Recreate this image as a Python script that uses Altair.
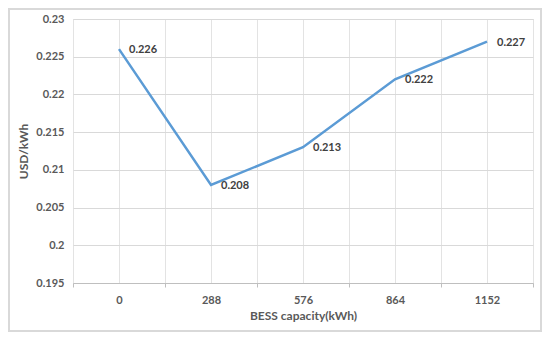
import altair as alt
import pandas as pd

capacity = [0, 288, 576, 864, 1152]
cost = [0.226, 0.208, 0.213, 0.222, 0.227]
cost_labels = ["0.226", "0.208", "0.213", "0.222", "0.227"]
y_ticks = [0.195, 0.2, 0.205, 0.21, 0.215, 0.22, 0.225, 0.23]
x_grid = [-144, 0, 144, 288, 432, 576, 720, 864, 1008, 1152, 1296]

df = pd.DataFrame({"cap": capacity, "cost": cost, "lab": cost_labels})

FONT = "Lato"
W, H = 460, 264

x_enc = alt.X(
    "cap:Q",
    scale=alt.Scale(domain=[-144, 1296], nice=False, zero=False),
    axis=alt.Axis(
        values=x_grid,
        format="d",
        labelExpr="datum.value % 288 == 0 && datum.value >= 0 ? datum.label : ''",
        title="BESS capacity(kWh)",
        titleFont=FONT, titleFontSize=12, titleFontWeight="bold", titleColor="#595959",
        titlePadding=5,
        labelFont=FONT, labelFontSize=11, labelFontWeight="bold", labelColor="#595959",
        labelPadding=7,
        labelOverlap=False,
        tickSize=4,
        tickColor={"condition": {"test": "datum.value % 288 == 0 && datum.value >= 0", "value": "transparent"}, "value": "#bfbfbf"},
        grid=True,
        gridColor="#e3e3e3",
        domainColor="#bfbfbf",
        labelFlush=False,
    ),
)
y_enc = alt.Y(
    "cost:Q",
    scale=alt.Scale(domain=[0.195, 0.23], nice=False, zero=False),
    axis=alt.Axis(
        values=y_ticks,
        format="~g",
        title="USD/kWh",
        titleFont=FONT, titleFontSize=12, titleFontWeight="bold", titleColor="#595959",
        titlePadding=5,
        labelFont=FONT, labelFontSize=11, labelFontWeight="bold", labelColor="#595959",
        labelPadding=9,
        labelOverlap=False,
        ticks=False,
        domain=False,
        grid=True,
        gridColor="#d9d9d9",
    ),
)

border = alt.Chart(df).mark_rect(fill=None, stroke="#d9d9d9", strokeWidth=1.5).encode(
    x=alt.value(-64), x2=alt.value(W + 8), y=alt.value(-10), y2=alt.value(H + 48)
)

line = alt.Chart(df).mark_line(color="#5b9bd5", strokeWidth=2.5).encode(x=x_enc, y=y_enc)

labels = alt.Chart(df).mark_text(
    align="left", baseline="middle", dx=10, dy=1, font=FONT, fontSize=11, fontWeight="bold", color="#404040"
).encode(x=x_enc, y=y_enc, text="lab:N")

chart = alt.layer(border, line, labels).properties(
    width=W, height=H,
    autosize=alt.AutoSizeParams(type="none"),
    padding={"left": 65, "top": 11, "right": 9, "bottom": 50},
).configure_view(stroke=None).configure(background="white")

chart.save("out.html", embed_options={"renderer": "svg", "actions": False})
